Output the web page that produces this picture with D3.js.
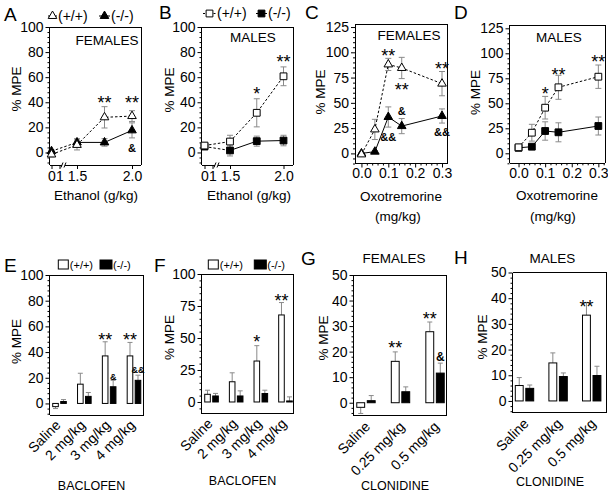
<!DOCTYPE html>
<html><head><meta charset="utf-8">
<script src="https://cdn.jsdelivr.net/npm/d3@7"></script>
<style>
body{margin:0;background:#fff}
svg{display:block}
text{font-family:"Liberation Sans",Arial,Helvetica,sans-serif;fill:#000}
</style>
</head><body>
<svg id="c" width="608" height="493"></svg>
<script>
// ---------------- DATA ----------------
// Panels A, B: ethanol (g/kg)
const ethanolDoses = [0, 1.5, 1.75, 2.0];
const ethanolTicks = [0, 1, 1.5, 2.0];
const ethanolTickLabels = ["0", "1", "1.5", "2.0"];
const aWT = [-1.6, 6, 28, 29];
const aWTerr = [2, 4, 8.5, 4.3];
const aKO = [1, 8, 8, 17.6];
const aKOerr = [1, 3, 3, 6];
const bWT = [5.5, 8.7, 31.6, 60.7];
const bWTerr = [1.5, 5, 11.2, 7.5];
const bKO = [4.7, 1.6, 9, 9.5];
const bKOerr = [1.5, 4.4, 4, 4.2];
const abYTicks = [0, 20, 40, 60, 80, 100];

// Panels C, D: oxotremorine (mg/kg)
const oxoDoses = [0, 0.05, 0.1, 0.15, 0.3];
const oxoTicks = [0, 0.1, 0.2, 0.3];
const cWT = [-1, 23.7, 88, 84.5, 69];
const cWTerr = [1.5, 10, 6, 10.5, 12];
const cKO = [0, 1.7, 36, 27, 37];
const cKOerr = [0.5, 1, 10, 7.5, 7];
const dWT = [6, 20.6, 45.6, 66, 76.6];
const dWTerr = [1.5, 8.4, 11.3, 12, 11.7];
const dKO = [5.5, 6.6, 22.3, 21, 27.3];
const dKOerr = [1, 1, 9.2, 9.5, 9];
const cdYTicks = [0, 25, 50, 75, 100, 125];

// Panels E, F: baclofen
const baclofenCats = ["Saline", "2 mg/kg", "3 mg/kg", "4 mg/kg"];
const eWT = [-2.5, 15, 37, 37];
const eWTerr = [1.5, 8.5, 11, 10.5];
const eKO = [1.5, 5.5, 13, 18];
const eKOerr = [1.5, 3, 5, 4];
const fWT = [6, 15.8, 32, 68];
const fWTerr = [3.2, 7, 12, 9.7];
const fKO = [4.7, 4.7, 6.6, 0.8];
const fKOerr = [2, 4, 2.6, 3.2];
const eYTicks = [0, 20, 40, 60, 80, 100];
const fYTicks = [0, 25, 50, 75, 100];

// Panels G, H: clonidine
const clonidineCats = ["Saline", "0.25 mg/kg", "0.5 mg/kg"];
const gWT = [-1.8, 16.2, 27.8];
const gWTerr = [2.4, 3.7, 3.8];
const gKO = [0.8, 4.3, 11.6];
const gKOerr = [2, 1.9, 3.9];
const hWT = [6, 14.8, 33.4];
const hWTerr = [3.1, 3.9, 4.9];
const hKO = [4.9, 9.5, 9.9];
const hKOerr = [1.3, 1.4, 3.6];
const ghYTicks = [0, 10, 20, 30, 40, 50];

// significance marks: [x (dose or category), baseline value, text]
const aMarks = [[1.75, 34.7, "**"], [2.0, 34.7, "**"], [2.0, 0.4, "&"]];
const bMarks = [[1.75, 41.9, "*"], [2.0, 67.4, "**"]];
const cMarks = [[0.1, 90.7, "**"], [0.15, 56.8, "**"], [0.3, 77.5, "**"], [0.15, 38, "&"], [0.1, 11.9, "&&"], [0.3, 17.2, "&&"]];
const dMarks = [[0.1, 53.8, "*"], [0.15, 72.6, "**"], [0.3, 85.5, "**"]];
const eMarks = [["3 mg/kg", "wt", 44.7, "**"], ["4 mg/kg", "wt", 44.7, "**"], ["3 mg/kg", "ko", 18, "&"], ["4 mg/kg", "ko", 24, "&&"]];
const fMarks = [["3 mg/kg", "wt", 42, "*"], ["4 mg/kg", "wt", 74.4, "**"]];
const gMarks = [["0.25 mg/kg", "wt", 19.1, "**"], ["0.5 mg/kg", "wt", 30.4, "**"], ["0.5 mg/kg", "ko", 16.3, "&"]];
const hMarks = [["0.5 mg/kg", "wt", 34.2, "**"]];

// ---------------- DRAWING ----------------
const svg = d3.select("#c");
const ERR = "#8a8a8a";

function markSize(t) { return t.indexOf("*") >= 0 ? 18 : 11; }

function frame(g, L, R, T, B, gap) {
  const segs = [[L, T, R, T], [R, T, R, B], [L, T, L, B]];
  if (gap) { segs.push([L, B, gap[0], B], [gap[1], B, R, B]); }
  else segs.push([L, B, R, B]);
  segs.forEach(d => g.append("line").attr("x1", d[0]).attr("y1", d[1]).attr("x2", d[2]).attr("y2", d[3])
    .attr("stroke", "#000").attr("stroke-width", 1).attr("shape-rendering", "crispEdges"));
  if (gap) {
    [gap[0], gap[1]].forEach(xx => g.append("line").attr("x1", xx - 1).attr("y1", B + 2.5).attr("x2", xx + 1).attr("y2", B - 2.5)
      .attr("stroke", "#000").attr("stroke-width", 1));
  }
}

function yAxis(g, y, L, ticks, minorStep, fs) {
  const ax = g.append("g").attr("transform", `translate(${L},0)`)
    .call(d3.axisLeft(y).tickValues(ticks).tickSize(4).tickPadding(2).tickFormat(d3.format("d")));
  ax.select(".domain").remove();
  ax.selectAll("text").style("font-size", fs + "px").style("font-family", null);
  const dom = y.domain();
  const minor = d3.range(Math.ceil(dom[0] / minorStep) * minorStep, dom[1] + 1e-9, minorStep)
    .filter(v => !ticks.some(t => Math.abs(t - v) < 1e-9));
  const mx = g.append("g").attr("transform", `translate(${L},0)`)
    .call(d3.axisLeft(y).tickValues(minor).tickSize(2).tickFormat(""));
  mx.select(".domain").remove();
}

function txt(g, t, x, y, fs, opts) {
  opts = opts || {};
  const e = g.append("text").attr("x", x).attr("y", y).text(t).style("font-size", fs + "px")
    .attr("text-anchor", opts.anchor || "middle");
  if (opts.bold) e.style("font-weight", "bold");
  if (opts.rot) e.attr("transform", `rotate(${opts.rot},${x},${y})`);
  return e;
}

function marker(g, x, y, sym, filled) {
  const p = d3.symbol().type(sym === "tri" ? d3.symbolTriangle : d3.symbolSquare).size(sym === "tri" ? 32 : 46);
  g.append("path").attr("d", p()).attr("transform", `translate(${x},${y})`)
    .attr("fill", filled ? "#000" : "#fff").attr("stroke", "#000").attr("stroke-width", 1);
}

function linePanel(o) {
  const g = svg.append("g");
  const {L, R, T, B, x, y} = o;
  frame(g, L, R, T, B, o.gap);
  yAxis(g, y, L, o.yTicks, o.yMinor, 14);
  const xa = g.append("g").attr("transform", `translate(0,${B})`)
    .call(d3.axisBottom(x).tickValues(o.xTicks).tickSize(4).tickPadding(o.xPad)
      .tickFormat((d, i) => o.xLabels[i]));
  xa.select(".domain").remove();
  xa.selectAll("text").style("font-size", "14px").style("font-family", null);
  if (o.xMinor) {
    const mx = g.append("g").attr("transform", `translate(0,${B})`)
      .call(d3.axisBottom(x).tickValues(o.xMinor).tickSize(2).tickFormat(""));
    mx.select(".domain").remove();
  }
  // error bars
  o.series.forEach(s => {
    s.xs.forEach((xv, i) => {
      const px = x(xv), y1 = y(s.v[i] + s.e[i]), y0 = y(s.v[i] - s.e[i]);
      g.append("line").attr("x1", px).attr("x2", px).attr("y1", y1).attr("y2", y0).attr("stroke", ERR);
      [y1, y0].forEach(yy => g.append("line").attr("x1", px - 3).attr("x2", px + 3).attr("y1", yy).attr("y2", yy).attr("stroke", ERR));
    });
  });
  // lines
  o.series.forEach(s => {
    const pts = s.xs.map((xv, i) => [x(xv), y(s.v[i])]);
    const ln = d3.line();
    if (o.dashFirst) {
      g.append("path").attr("d", ln(pts.slice(0, 2))).attr("fill", "none").attr("stroke", "#000").attr("stroke-dasharray", "2.5,2");
      g.append("path").attr("d", ln(pts.slice(1))).attr("fill", "none").attr("stroke", "#000")
        .attr("stroke-dasharray", s.dashed ? "2.5,2" : null);
    } else {
      g.append("path").attr("d", ln(pts)).attr("fill", "none").attr("stroke", "#000")
        .attr("stroke-dasharray", s.dashed ? "2.5,2" : null);
    }
  });
  o.series.forEach(s => s.xs.forEach((xv, i) => marker(g, x(xv), y(s.v[i]), s.sym, s.filled)));
  o.marks.forEach(m => txt(g, m[2], x(m[0]), y(m[1]), markSize(m[2]), {bold: m[2].indexOf("&") >= 0}));
  txt(g, o.letter[0], o.letter[1], o.letter[2], 19, {anchor: "start"});
  txt(g, "% MPE", o.ylab[0], o.ylab[1], 13.5, {rot: -90});
  o.xtitle.forEach(t => txt(g, t[0], t[1], t[2], 13.5));
  if (o.title) txt(g, o.title[0], o.title[1], o.title[2], 13.5);
  if (o.legend) {
    o.legend.forEach(l => {
      g.append("line").attr("x1", l.x0).attr("x2", l.x1).attr("y1", l.y).attr("y2", l.y).attr("stroke", "#000")
        .attr("stroke-dasharray", l.dashed ? "2,1.5" : null);
      marker(g, (l.x0 + l.x1) / 2, l.y, l.sym, l.filled);
      txt(g, l.t, l.x1 + 1, l.y + 4.5, 14, {anchor: "start"});
    });
  }
}

function barPanel(o) {
  const g = svg.append("g");
  const {L, R, T, B, y} = o;
  frame(g, L, R, T, B, null);
  yAxis(g, y, L, o.yTicks, o.yMinor, 14);
  const x0 = d3.scaleBand().domain(o.cats).range(o.band).padding(0);
  const half = o.sub;
  const x1 = d3.scaleBand().domain(["wt", "ko"]).range([x0.bandwidth() / 2 - half, x0.bandwidth() / 2 + half]).paddingInner(o.pin);
  const groups = [["wt", o.wt, o.wte], ["ko", o.ko, o.koe]];
  groups.forEach(([k, vals, errs]) => {
    o.cats.forEach((c, i) => {
      const bx = x0(c) + x1(k), bw = x1.bandwidth(), v = vals[i];
      const cx = bx + bw / 2;
      const tip = v >= 0 ? v + errs[i] : v - errs[i];
      g.append("line").attr("x1", cx).attr("x2", cx).attr("y1", y(v)).attr("y2", y(tip)).attr("stroke", ERR);
      g.append("line").attr("x1", cx - 2.5).attr("x2", cx + 2.5).attr("y1", y(tip)).attr("y2", y(tip)).attr("stroke", ERR);
      g.append("rect").attr("x", bx).attr("width", bw)
        .attr("y", y(Math.max(0, v))).attr("height", Math.abs(y(v) - y(0)))
        .attr("fill", k === "wt" ? "#fff" : "#000").attr("stroke", "#000").attr("stroke-width", 1);
    });
  });
  o.marks.forEach(m => {
    const cx = x0(m[0]) + x1(m[1]) + x1.bandwidth() / 2;
    const fs = m[3].indexOf("*") >= 0 ? 18 : o.ampSize;
    txt(g, m[3], cx, y(m[2]), fs, {bold: m[3].indexOf("&") >= 0});
  });
  o.cats.forEach(c => {
    const cx = x0(c) + x0.bandwidth() / 2 + o.labDx;
    txt(g, c, cx, B + o.labDy, 14, {anchor: "end", rot: -45});
  });
  txt(g, o.letter[0], o.letter[1], o.letter[2], 19, {anchor: "start"});
  txt(g, "% MPE", o.ylab[0], o.ylab[1], 13.5, {rot: -90});
  txt(g, o.xtitle[0], o.xtitle[1], o.xtitle[2], 12.5);
  if (o.title) txt(g, o.title[0], o.title[1], o.title[2], 13.5);
  if (o.legend) {
    const lg = o.legend;
    g.append("rect").attr("x", lg[0]).attr("y", lg[2] - 9).attr("width", 10).attr("height", 9).attr("fill", "#fff").attr("stroke", "#000");
    txt(g, "(+/+)", lg[0] + 11.5, lg[2], 11, {anchor: "start"});
    g.append("rect").attr("x", lg[1]).attr("y", lg[2] - 9).attr("width", 12).attr("height", 9).attr("fill", "#000").attr("stroke", "#000");
    txt(g, "(-/-)", lg[1] + 13, lg[2], 11, {anchor: "start"});
  }
}

// ---- A
linePanel({
  L: 49.5, R: 141, T: 27, B: 165,
  x: d3.scaleLinear().domain(ethanolTicks).range([51.5, 59.5, 77, 132]),
  y: d3.scaleLinear().domain([-10, 100]).range([165, 27]),
  gap: [62, 65], yTicks: abYTicks, yMinor: 4,
  xTicks: ethanolTicks, xLabels: ethanolTickLabels, xPad: 2, dashFirst: true,
  series: [
    {xs: ethanolDoses, v: aKO, e: aKOerr, sym: "tri", filled: true, dashed: false},
    {xs: ethanolDoses, v: aWT, e: aWTerr, sym: "tri", filled: false, dashed: true}
  ],
  marks: aMarks, letter: ["A", 4, 21], ylab: [20.5, 89], xtitle: [["Ethanol (g/kg)", 96, 200]],
  title: ["FEMALES", 107, 45],
  legend: [{x0: 48, x1: 57, y: 16, sym: "tri", filled: false, dashed: true, t: "(+/+)"},
           {x0: 99, x1: 110, y: 16, sym: "tri", filled: true, dashed: false, t: "(-/-)"}]
});
// ---- B
linePanel({
  L: 201.5, R: 293, T: 27, B: 165,
  x: d3.scaleLinear().domain(ethanolTicks).range([204.5, 212.5, 230, 283.5]),
  y: d3.scaleLinear().domain([-10, 100]).range([165, 27]),
  gap: [215, 218], yTicks: abYTicks, yMinor: 4,
  xTicks: ethanolTicks, xLabels: ethanolTickLabels, xPad: 2, dashFirst: true,
  series: [
    {xs: ethanolDoses, v: bKO, e: bKOerr, sym: "sq", filled: true, dashed: false},
    {xs: ethanolDoses, v: bWT, e: bWTerr, sym: "sq", filled: false, dashed: true}
  ],
  marks: bMarks, letter: ["B", 159, 18.5], ylab: [174, 90], xtitle: [["Ethanol (g/kg)", 249, 200]],
  title: ["MALES", 253, 41.5],
  legend: [{x0: 203, x1: 216, y: 13.5, sym: "sq", filled: false, dashed: true, t: "(+/+)"},
           {x0: 256, x1: 267, y: 13.5, sym: "sq", filled: true, dashed: false, t: "(-/-)"}]
});
// ---- C
linePanel({
  L: 355, R: 447, T: 24, B: 163.5,
  x: d3.scaleLinear().domain([-0.024, 0.3186]).range([355, 447]),
  y: d3.scaleLinear().domain([-10, 128]).range([163.5, 24]),
  gap: null, yTicks: cdYTicks, yMinor: 5,
  xTicks: oxoTicks, xLabels: oxoTicks.map(d3.format(".1f")), xPad: 1,
  xMinor: d3.range(0, 0.3001, 0.02).filter(v => Math.abs(v * 10 - Math.round(v * 10)) > 1e-6),
  series: [
    {xs: oxoDoses, v: cKO, e: cKOerr, sym: "tri", filled: true, dashed: false},
    {xs: oxoDoses, v: cWT, e: cWTerr, sym: "tri", filled: false, dashed: true}
  ],
  marks: cMarks, letter: ["C", 305, 18.5], ylab: [325, 92],
  xtitle: [["Oxotremorine", 401, 201], ["(mg/kg)", 398, 221]],
  title: ["FEMALES", 409, 39.5]
});
// ---- D
linePanel({
  L: 509.5, R: 605, T: 25.3, B: 163.3,
  x: d3.scaleLinear().domain([-0.034, 0.325]).range([509.5, 605]),
  y: d3.scaleLinear().domain([-10, 128]).range([163.3, 25.3]),
  gap: null, yTicks: cdYTicks, yMinor: 5,
  xTicks: oxoTicks, xLabels: oxoTicks.map(d3.format(".1f")), xPad: 1,
  xMinor: d3.range(0, 0.3201, 0.02).filter(v => Math.abs(v * 10 - Math.round(v * 10)) > 1e-6),
  series: [
    {xs: oxoDoses, v: dKO, e: dKOerr, sym: "sq", filled: true, dashed: false},
    {xs: oxoDoses, v: dWT, e: dWTerr, sym: "sq", filled: false, dashed: true}
  ],
  marks: dMarks, letter: ["D", 454, 18.5], ylab: [480, 92.5],
  xtitle: [["Oxotremorine", 557, 200], ["(mg/kg)", 553, 221]],
  title: ["MALES", 559, 41.5]
});
// ---- E
barPanel({
  L: 49.5, R: 143.5, T: 275, B: 415,
  y: d3.scaleLinear().domain([-9, 100]).range([415, 275]),
  yTicks: eYTicks, yMinor: 4, cats: baclofenCats, band: [47.1, 146.4], sub: 6.8, pin: 0.3,
  wt: eWT, wte: eWTerr, ko: eKO, koe: eKOerr, marks: eMarks, ampSize: 9,
  labDx: 2, labDy: 11,
  letter: ["E", 4, 272], ylab: [20.5, 341.5], xtitle: ["BACLOFEN", 91.5, 489.5],
  legend: [58.3, 100, 269]
});
// ---- F
barPanel({
  L: 201.5, R: 293.5, T: 274, B: 413.5,
  y: d3.scaleLinear().domain([-9, 100]).range([413.5, 274]),
  yTicks: fYTicks, yMinor: 5, cats: baclofenCats, band: [199.2, 297.8], sub: 6.8, pin: 0.3,
  wt: fWT, wte: fWTerr, ko: fKO, koe: fKOerr, marks: fMarks, ampSize: 9,
  labDx: 2, labDy: 11,
  letter: ["F", 154, 272], ylab: [174, 337.5], xtitle: ["BACLOFEN", 242.5, 484.5],
  legend: [208.3, 254.3, 269]
});
// ---- G
barPanel({
  L: 353.5, R: 446.5, T: 275, B: 415.5,
  y: d3.scaleLinear().domain([-5, 50]).range([415.5, 275]),
  yTicks: ghYTicks, yMinor: 2, cats: clonidineCats, band: [348.7, 452.3], sub: 9.2, pin: 0.25,
  wt: gWT, wte: gWTerr, ko: gKO, koe: gKOerr, marks: gMarks, ampSize: 12,
  labDx: 5, labDy: 12,
  letter: ["G", 301, 265], ylab: [328, 338], xtitle: ["CLONIDINE", 395, 489.5],
  title: ["FEMALES", 394, 263]
});
// ---- H
barPanel({
  L: 512.5, R: 606.5, T: 272.5, B: 412.5,
  y: d3.scaleLinear().domain([-4.5, 50]).range([412.5, 272.5]),
  yTicks: ghYTicks, yMinor: 2, cats: clonidineCats, band: [507.7, 608.5], sub: 9.2, pin: 0.25,
  wt: hWT, wte: hWTerr, ko: hKO, koe: hKOerr, marks: hMarks, ampSize: 12,
  labDx: 5, labDy: 12,
  letter: ["H", 454, 263.5], ylab: [486.5, 337], xtitle: ["CLONIDINE", 550, 486],
  title: ["MALES", 552.5, 263]
});
</script>
</body></html>
